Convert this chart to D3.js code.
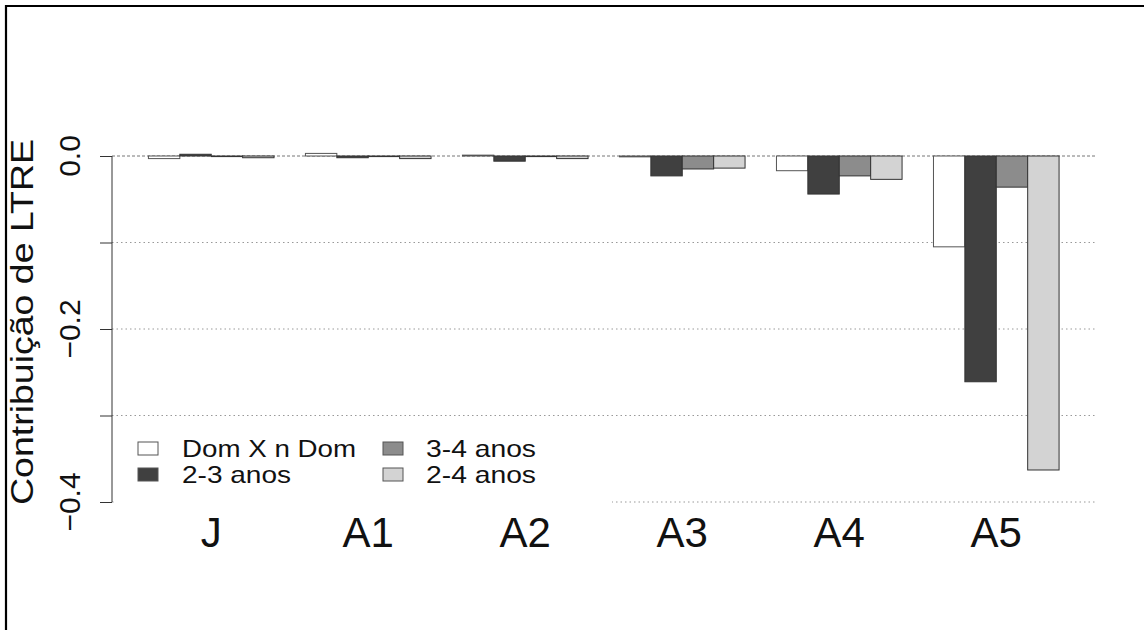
<!DOCTYPE html>
<html>
<head>
<meta charset="utf-8">
<script src="https://cdn.jsdelivr.net/npm/d3@7"></script>
<style>
  html, body { margin: 0; padding: 0; background: #fff; }
  svg { display: block; font-family: "Liberation Sans", Arial, sans-serif; }
</style>
</head>
<body>
<svg id="chart" width="1144" height="630"></svg>
<script>
// ---- data ----
const categories = ["J", "A1", "A2", "A3", "A4", "A5"];
const seriesNames = ["Dom X n Dom", "2-3 anos", "3-4 anos", "2-4 anos"];
const domXnDom = [-0.003, 0.003, 0.001, -0.001, -0.017, -0.105];
const anos23   = [0.002, -0.002, -0.006, -0.023, -0.044, -0.261];
const anos34   = [-0.0005, -0.0005, -0.0005, -0.015, -0.023, -0.036];
const anos24   = [-0.002, -0.003, -0.003, -0.014, -0.027, -0.363];
const yTicks = [0, -0.1, -0.2, -0.3, -0.4];
const yTickLabels = [0, -0.2, -0.4];
const seriesValues = [domXnDom, anos23, anos34, anos24];
const fills = ["#ffffff", "#404040", "#8c8c8c", "#d3d3d3"];

const svg = d3.select("#chart");

// R barplot style coordinates: bar j of group i occupies [1+5i+j, 2+5i+j]
const x = d3.scaleLinear().domain([-0.16, 31.16]).range([112, 1095.5]);
const y = d3.scaleLinear().domain([0, -0.4]).range([156, 502]);

// frame
svg.append("path")
  .attr("d", `M6,630 L6,6 L1144,6`)
  .attr("fill", "none").attr("stroke", "#000").attr("stroke-width", 2.2);

// gridlines
svg.append("g").selectAll("line").data(yTicks).join("line")
  .attr("x1", x(-0.16)).attr("x2", x(31.16))
  .attr("y1", d => y(d)).attr("y2", d => y(d))
  .attr("stroke", d => d === 0 ? "#777" : "#999")
  .attr("stroke-width", 1)
  .attr("stroke-dasharray", d => d === 0 ? "3,2" : "1.5,3");

// bars
const bars = [];
categories.forEach((c, i) => {
  seriesValues.forEach((vals, j) => {
    bars.push({ c, i, j, v: vals[i] });
  });
});
svg.append("g").selectAll("rect").data(bars).join("rect")
  .attr("x", d => x(1 + 5 * d.i + d.j))
  .attr("width", d => x(2 + 5 * d.i + d.j) - x(1 + 5 * d.i + d.j))
  .attr("y", d => Math.min(y(0), y(d.v)))
  .attr("height", d => Math.max(0.6, Math.abs(y(d.v) - y(0))))
  .attr("fill", d => fills[d.j])
  .attr("stroke", d => d.j === 0 ? "#555" : "#333")
  .attr("stroke-width", 1);

// legend background (covers gridline)
svg.append("rect")
  .attr("x", 114).attr("y", 424).attr("width", 498).attr("height", 90)
  .attr("fill", "#fff");

// y axis
const yAxis = d3.axisLeft(y).tickValues(yTicks).tickSize(12).tickFormat("");
const ga = svg.append("g").attr("transform", `translate(${x(-0.16)},0)`).call(yAxis);
ga.select(".domain").attr("stroke", "#333").attr("d", `M-0,${y(0)}V${y(-0.4)}`);
ga.selectAll(".tick line").attr("stroke", "#333");

const fmt = d3.format(".1f");
svg.append("g").selectAll("text").data(yTickLabels).join("text")
  .attr("transform", d => `translate(80,${y(d)}) rotate(-90)`)
  .attr("text-anchor", "middle")
  .attr("font-size", 30)
  .attr("fill", "#111")
  .text(d => fmt(d));

// y title
svg.append("text")
  .attr("transform", `translate(33,322) rotate(-90)`)
  .attr("text-anchor", "middle")
  .attr("font-size", 31)
  .attr("fill", "#111")
  .attr("textLength", 366)
  .attr("lengthAdjust", "spacingAndGlyphs")
  .text("Contribuição de LTRE");

// x category labels
svg.append("g").selectAll("text").data(categories).join("text")
  .attr("x", (d, i) => x(3 + 5 * i))
  .attr("y", 547)
  .attr("text-anchor", "middle")
  .attr("font-size", 42)
  .attr("fill", "#111")
  .text(d => d);

// legend
const legendPos = [
  { sx: 138, tx: 182, ty: 457 },
  { sx: 138, tx: 182, ty: 483 },
  { sx: 383, tx: 426, ty: 457 },
  { sx: 383, tx: 426, ty: 483 }
];
const legendLen = [174, 109, 110, 110];
const lg = svg.append("g");
seriesNames.forEach((name, j) => {
  const p = legendPos[j];
  lg.append("rect")
    .attr("x", p.sx).attr("y", p.ty - 15).attr("width", 20).attr("height", 13)
    .attr("fill", fills[j]).attr("stroke", "#555").attr("stroke-width", 1);
  lg.append("text")
    .attr("x", p.tx).attr("y", p.ty)
    .attr("font-size", 24)
    .attr("fill", "#111")
    .attr("textLength", legendLen[j])
    .attr("lengthAdjust", "spacingAndGlyphs")
    .text(name);
});
</script>
</body>
</html>
